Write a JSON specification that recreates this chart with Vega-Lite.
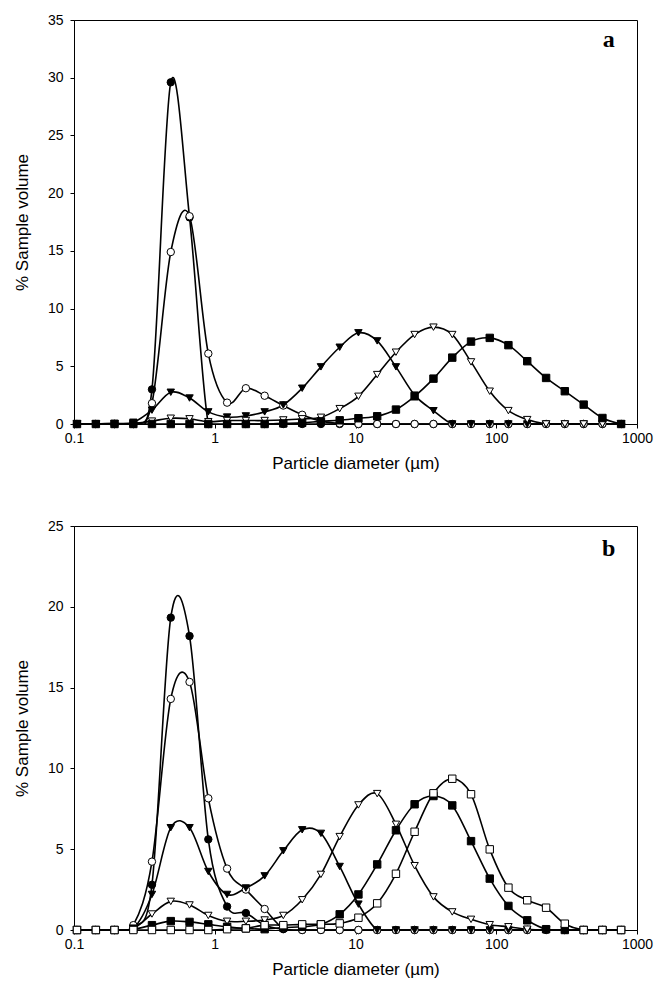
{
  "$schema": "https://vega.github.io/schema/vega-lite/v6.json",
  "background": "white",
  "padding": {"left": 12, "top": 12, "right": 3, "bottom": 5},
  "spacing": 46,
  "config": {
    "view": {"stroke": "black", "strokeWidth": 1},
    "axis": {
      "labelFont": "Liberation Sans", "titleFont": "Liberation Sans",
      "labelFontSize": 14, "titleFontSize": 17, "titleFontWeight": "normal",
      "labelColor": "black", "titleColor": "black", "labelFlush": false,
      "domainColor": "black", "tickColor": "black", "grid": false, "tickSize": 4
    }
  },
  "datasets": {
    "a": [
      {"s":"FC","x":0.105,"y":0},{"s":"FC","x":0.143,"y":0},{"s":"FC","x":0.194,"y":0},{"s":"FC","x":0.264,"y":0},{"s":"FC","x":0.358,"y":3.0},{"s":"FC","x":0.487,"y":29.6},{"s":"FC","x":0.662,"y":17.9},{"s":"FC","x":0.9,"y":0},{"s":"FC","x":1.224,"y":0},{"s":"FC","x":1.664,"y":0},{"s":"FC","x":2.262,"y":0},{"s":"FC","x":3.07,"y":0},{"s":"FC","x":4.18,"y":0},{"s":"FC","x":5.68,"y":0},{"s":"FC","x":7.72,"y":0},{"s":"FC","x":10.49,"y":0},{"s":"FC","x":14.26,"y":0},{"s":"FC","x":19.38,"y":0},{"s":"FC","x":26.3,"y":0},{"s":"FC","x":35.8,"y":0},{"s":"FC","x":48.7,"y":0},{"s":"FC","x":66.2,"y":0},{"s":"FC","x":89.9,"y":0},{"s":"FC","x":122,"y":0},{"s":"FC","x":166,"y":0},{"s":"FC","x":226,"y":0},{"s":"FC","x":307,"y":0},{"s":"FC","x":418,"y":0},{"s":"FC","x":568,"y":0},{"s":"FC","x":771,"y":0},
      {"s":"OC","x":0.105,"y":0},{"s":"OC","x":0.143,"y":0},{"s":"OC","x":0.194,"y":0},{"s":"OC","x":0.264,"y":0},{"s":"OC","x":0.358,"y":1.8},{"s":"OC","x":0.487,"y":14.9},{"s":"OC","x":0.662,"y":18.0},{"s":"OC","x":0.9,"y":6.1},{"s":"OC","x":1.224,"y":1.85},{"s":"OC","x":1.664,"y":3.1},{"s":"OC","x":2.262,"y":2.45},{"s":"OC","x":3.07,"y":1.6},{"s":"OC","x":4.18,"y":0.8},{"s":"OC","x":5.68,"y":0.25},{"s":"OC","x":7.72,"y":0.05},{"s":"OC","x":10.49,"y":0},{"s":"OC","x":14.26,"y":0},{"s":"OC","x":19.38,"y":0},{"s":"OC","x":26.3,"y":0},{"s":"OC","x":35.8,"y":0},{"s":"OC","x":48.7,"y":0},{"s":"OC","x":66.2,"y":0},{"s":"OC","x":89.9,"y":0},{"s":"OC","x":122,"y":0},{"s":"OC","x":166,"y":0},{"s":"OC","x":226,"y":0},{"s":"OC","x":307,"y":0},{"s":"OC","x":418,"y":0},{"s":"OC","x":568,"y":0},{"s":"OC","x":771,"y":0},
      {"s":"FT","x":0.105,"y":0},{"s":"FT","x":0.143,"y":0},{"s":"FT","x":0.194,"y":0.05},{"s":"FT","x":0.264,"y":0.15},{"s":"FT","x":0.358,"y":1.2},{"s":"FT","x":0.487,"y":2.75},{"s":"FT","x":0.662,"y":2.25},{"s":"FT","x":0.9,"y":1.05},{"s":"FT","x":1.224,"y":0.6},{"s":"FT","x":1.664,"y":0.7},{"s":"FT","x":2.262,"y":1.05},{"s":"FT","x":3.07,"y":1.65},{"s":"FT","x":4.18,"y":3.1},{"s":"FT","x":5.68,"y":4.95},{"s":"FT","x":7.72,"y":6.65},{"s":"FT","x":10.49,"y":7.9},{"s":"FT","x":14.26,"y":7.2},{"s":"FT","x":19.38,"y":4.95},{"s":"FT","x":26.3,"y":2.5},{"s":"FT","x":35.8,"y":1.15},{"s":"FT","x":48.7,"y":0},{"s":"FT","x":66.2,"y":0},{"s":"FT","x":89.9,"y":0},{"s":"FT","x":122,"y":0},{"s":"FT","x":166,"y":0},{"s":"FT","x":226,"y":0},{"s":"FT","x":307,"y":0},{"s":"FT","x":418,"y":0},{"s":"FT","x":568,"y":0},{"s":"FT","x":771,"y":0},
      {"s":"OT","x":0.105,"y":0},{"s":"OT","x":0.143,"y":0},{"s":"OT","x":0.194,"y":0},{"s":"OT","x":0.264,"y":0.05},{"s":"OT","x":0.358,"y":0.25},{"s":"OT","x":0.487,"y":0.5},{"s":"OT","x":0.662,"y":0.45},{"s":"OT","x":0.9,"y":0.2},{"s":"OT","x":1.224,"y":0.3},{"s":"OT","x":1.664,"y":0.3},{"s":"OT","x":2.262,"y":0.3},{"s":"OT","x":3.07,"y":0.35},{"s":"OT","x":4.18,"y":0.45},{"s":"OT","x":5.68,"y":0.58},{"s":"OT","x":7.72,"y":1.33},{"s":"OT","x":10.49,"y":2.4},{"s":"OT","x":14.26,"y":4.28},{"s":"OT","x":19.38,"y":6.22},{"s":"OT","x":26.3,"y":7.75},{"s":"OT","x":35.8,"y":8.39},{"s":"OT","x":48.7,"y":7.75},{"s":"OT","x":66.2,"y":5.38},{"s":"OT","x":89.9,"y":2.84},{"s":"OT","x":122,"y":1.16},{"s":"OT","x":166,"y":0.38},{"s":"OT","x":226,"y":0},{"s":"OT","x":307,"y":0},{"s":"OT","x":418,"y":0},{"s":"OT","x":568,"y":0},{"s":"OT","x":771,"y":0},
      {"s":"FS","x":0.105,"y":0},{"s":"FS","x":0.143,"y":0},{"s":"FS","x":0.194,"y":0},{"s":"FS","x":0.264,"y":0},{"s":"FS","x":0.358,"y":0},{"s":"FS","x":0.487,"y":0},{"s":"FS","x":0.662,"y":0},{"s":"FS","x":0.9,"y":0},{"s":"FS","x":1.224,"y":0},{"s":"FS","x":1.664,"y":0},{"s":"FS","x":2.262,"y":0},{"s":"FS","x":3.07,"y":0.05},{"s":"FS","x":4.18,"y":0.1},{"s":"FS","x":5.68,"y":0.23},{"s":"FS","x":7.72,"y":0.32},{"s":"FS","x":10.49,"y":0.5},{"s":"FS","x":14.26,"y":0.67},{"s":"FS","x":19.38,"y":1.25},{"s":"FS","x":26.3,"y":2.4},{"s":"FS","x":35.8,"y":3.93},{"s":"FS","x":48.7,"y":5.75},{"s":"FS","x":66.2,"y":7.14},{"s":"FS","x":89.9,"y":7.46},{"s":"FS","x":122,"y":6.83},{"s":"FS","x":166,"y":5.44},{"s":"FS","x":226,"y":3.99},{"s":"FS","x":307,"y":2.84},{"s":"FS","x":418,"y":1.68},{"s":"FS","x":568,"y":0.52},{"s":"FS","x":771,"y":0}
    ],
    "b": [
      {"s":"FC","x":0.105,"y":0},{"s":"FC","x":0.143,"y":0},{"s":"FC","x":0.194,"y":0},{"s":"FC","x":0.264,"y":0.2},{"s":"FC","x":0.358,"y":2.8},{"s":"FC","x":0.487,"y":19.33},{"s":"FC","x":0.662,"y":18.19},{"s":"FC","x":0.9,"y":5.61},{"s":"FC","x":1.224,"y":1.45},{"s":"FC","x":1.664,"y":1.05},{"s":"FC","x":2.262,"y":0.3},{"s":"FC","x":3.07,"y":0.05},{"s":"FC","x":4.18,"y":0},{"s":"FC","x":5.68,"y":0},{"s":"FC","x":7.72,"y":0},{"s":"FC","x":10.49,"y":0},{"s":"FC","x":14.26,"y":0},{"s":"FC","x":19.38,"y":0},{"s":"FC","x":26.3,"y":0},{"s":"FC","x":35.8,"y":0},{"s":"FC","x":48.7,"y":0},{"s":"FC","x":66.2,"y":0},{"s":"FC","x":89.9,"y":0},{"s":"FC","x":122,"y":0},{"s":"FC","x":166,"y":0},{"s":"FC","x":226,"y":0},{"s":"FC","x":307,"y":0},{"s":"FC","x":418,"y":0},{"s":"FC","x":568,"y":0},{"s":"FC","x":771,"y":0},
      {"s":"OC","x":0.105,"y":0},{"s":"OC","x":0.143,"y":0},{"s":"OC","x":0.194,"y":0},{"s":"OC","x":0.264,"y":0.3},{"s":"OC","x":0.358,"y":4.23},{"s":"OC","x":0.487,"y":14.3},{"s":"OC","x":0.662,"y":15.35},{"s":"OC","x":0.9,"y":8.15},{"s":"OC","x":1.224,"y":3.8},{"s":"OC","x":1.664,"y":2.5},{"s":"OC","x":2.262,"y":1.3},{"s":"OC","x":3.07,"y":0.1},{"s":"OC","x":4.18,"y":0},{"s":"OC","x":5.68,"y":0},{"s":"OC","x":7.72,"y":0},{"s":"OC","x":10.49,"y":0},{"s":"OC","x":14.26,"y":0},{"s":"OC","x":19.38,"y":0},{"s":"OC","x":26.3,"y":0},{"s":"OC","x":35.8,"y":0},{"s":"OC","x":48.7,"y":0},{"s":"OC","x":66.2,"y":0},{"s":"OC","x":89.9,"y":0},{"s":"OC","x":122,"y":0},{"s":"OC","x":166,"y":0},{"s":"OC","x":226,"y":0},{"s":"OC","x":307,"y":0},{"s":"OC","x":418,"y":0},{"s":"OC","x":568,"y":0},{"s":"OC","x":771,"y":0},
      {"s":"FT","x":0.105,"y":0},{"s":"FT","x":0.143,"y":0},{"s":"FT","x":0.194,"y":0},{"s":"FT","x":0.264,"y":0.1},{"s":"FT","x":0.358,"y":2.2},{"s":"FT","x":0.487,"y":6.33},{"s":"FT","x":0.662,"y":6.33},{"s":"FT","x":0.9,"y":3.62},{"s":"FT","x":1.224,"y":2.2},{"s":"FT","x":1.664,"y":2.6},{"s":"FT","x":2.262,"y":3.35},{"s":"FT","x":3.07,"y":4.9},{"s":"FT","x":4.18,"y":6.2},{"s":"FT","x":5.68,"y":5.98},{"s":"FT","x":7.72,"y":3.93},{"s":"FT","x":10.49,"y":1.6},{"s":"FT","x":14.26,"y":0},{"s":"FT","x":19.38,"y":0},{"s":"FT","x":26.3,"y":0},{"s":"FT","x":35.8,"y":0},{"s":"FT","x":48.7,"y":0},{"s":"FT","x":66.2,"y":0},{"s":"FT","x":89.9,"y":0},{"s":"FT","x":122,"y":0},{"s":"FT","x":166,"y":0},{"s":"FT","x":226,"y":0},{"s":"FT","x":307,"y":0},{"s":"FT","x":418,"y":0},{"s":"FT","x":568,"y":0},{"s":"FT","x":771,"y":0},
      {"s":"OT","x":0.105,"y":0},{"s":"OT","x":0.143,"y":0},{"s":"OT","x":0.194,"y":0},{"s":"OT","x":0.264,"y":0.1},{"s":"OT","x":0.358,"y":0.99},{"s":"OT","x":0.487,"y":1.77},{"s":"OT","x":0.662,"y":1.55},{"s":"OT","x":0.9,"y":0.9},{"s":"OT","x":1.224,"y":0.54},{"s":"OT","x":1.664,"y":0.54},{"s":"OT","x":2.262,"y":0.62},{"s":"OT","x":3.07,"y":0.9},{"s":"OT","x":4.18,"y":1.87},{"s":"OT","x":5.68,"y":3.44},{"s":"OT","x":7.72,"y":5.78},{"s":"OT","x":10.49,"y":7.74},{"s":"OT","x":14.26,"y":8.44},{"s":"OT","x":19.38,"y":6.54},{"s":"OT","x":26.3,"y":3.98},{"s":"OT","x":35.8,"y":2.05},{"s":"OT","x":48.7,"y":1.12},{"s":"OT","x":66.2,"y":0.66},{"s":"OT","x":89.9,"y":0.33},{"s":"OT","x":122,"y":0.2},{"s":"OT","x":166,"y":0.05},{"s":"OT","x":226,"y":0},{"s":"OT","x":307,"y":0},{"s":"OT","x":418,"y":0},{"s":"OT","x":568,"y":0},{"s":"OT","x":771,"y":0},
      {"s":"FS","x":0.105,"y":0},{"s":"FS","x":0.143,"y":0},{"s":"FS","x":0.194,"y":0},{"s":"FS","x":0.264,"y":0.05},{"s":"FS","x":0.358,"y":0.3},{"s":"FS","x":0.487,"y":0.55},{"s":"FS","x":0.662,"y":0.5},{"s":"FS","x":0.9,"y":0.35},{"s":"FS","x":1.224,"y":0.2},{"s":"FS","x":1.664,"y":0.1},{"s":"FS","x":2.262,"y":0.05},{"s":"FS","x":3.07,"y":0.15},{"s":"FS","x":4.18,"y":0.2},{"s":"FS","x":5.68,"y":0.35},{"s":"FS","x":7.72,"y":0.97},{"s":"FS","x":10.49,"y":2.2},{"s":"FS","x":14.26,"y":4.06},{"s":"FS","x":19.38,"y":6.17},{"s":"FS","x":26.3,"y":7.78},{"s":"FS","x":35.8,"y":8.29},{"s":"FS","x":48.7,"y":7.71},{"s":"FS","x":66.2,"y":5.5},{"s":"FS","x":89.9,"y":3.18},{"s":"FS","x":122,"y":1.49},{"s":"FS","x":166,"y":0.6},{"s":"FS","x":226,"y":0.05},{"s":"FS","x":307,"y":0},{"s":"FS","x":418,"y":0},{"s":"FS","x":568,"y":0},{"s":"FS","x":771,"y":0},
      {"s":"OS","x":0.105,"y":0},{"s":"OS","x":0.143,"y":0},{"s":"OS","x":0.194,"y":0},{"s":"OS","x":0.264,"y":0},{"s":"OS","x":0.358,"y":0},{"s":"OS","x":0.487,"y":0},{"s":"OS","x":0.662,"y":0},{"s":"OS","x":0.9,"y":0},{"s":"OS","x":1.224,"y":0.05},{"s":"OS","x":1.664,"y":0.1},{"s":"OS","x":2.262,"y":0.3},{"s":"OS","x":3.07,"y":0.3},{"s":"OS","x":4.18,"y":0.35},{"s":"OS","x":5.68,"y":0.35},{"s":"OS","x":7.72,"y":0.41},{"s":"OS","x":10.49,"y":0.76},{"s":"OS","x":14.26,"y":1.65},{"s":"OS","x":19.38,"y":3.48},{"s":"OS","x":26.3,"y":6.08},{"s":"OS","x":35.8,"y":8.46},{"s":"OS","x":48.7,"y":9.36},{"s":"OS","x":66.2,"y":8.4},{"s":"OS","x":89.9,"y":4.99},{"s":"OS","x":122,"y":2.62},{"s":"OS","x":166,"y":1.84},{"s":"OS","x":226,"y":1.38},{"s":"OS","x":307,"y":0.39},{"s":"OS","x":418,"y":0},{"s":"OS","x":568,"y":0},{"s":"OS","x":771,"y":0}
    ],
    "la": [{"t": "a", "px": 630, "py": 33.3}],
    "lb": [{"t": "b", "px": 630, "py": 23.6}]
  },
  "vconcat": [
    {
      "width": 563, "height": 404,
      "layer": [
        {"data": {"name": "a"},
         "mark": {"type": "line", "interpolate": "cardinal", "color": "black", "strokeWidth": 1.6, "clip": true},
         "encoding": {
           "x": {"field": "x", "type": "quantitative",
                 "scale": {"type": "log", "domain": [0.1, 1000], "nice": false},
                 "axis": {"values": [0.1, 1, 10, 100, 1000], "format": "~g", "title": "Particle diameter (µm)", "titlePadding": 10, "labelPadding": 3}},
           "y": {"field": "y", "type": "quantitative",
                 "scale": {"domain": [0, 35], "nice": false},
                 "axis": {"values": [0, 5, 10, 15, 20, 25, 30, 35], "title": "% Sample volume", "titlePadding": 16, "labelPadding": 7}},
           "detail": {"field": "s"}}},
        {"data": {"name": "a"},
         "mark": {"type": "point", "filled": true, "stroke": "black", "strokeWidth": 1, "size": 55, "opacity": 1},
         "encoding": {
           "x": {"field": "x", "type": "quantitative"},
           "y": {"field": "y", "type": "quantitative"},
           "shape": {"field": "s", "scale": {"domain": ["FC","OC","FT","OT","FS","OS"], "range": ["circle","circle","triangle-down","triangle-down","square","square"]}, "legend": null},
           "fill": {"field": "s", "scale": {"domain": ["FC","OC","FT","OT","FS","OS"], "range": ["black","white","black","white","black","white"]}, "legend": null}
         }},
        {"data": {"name": "la"},
         "mark": {"type": "text", "font": "Liberation Serif", "fontWeight": "bold", "fontSize": 24, "fill": "black"},
         "encoding": {
           "x": {"field": "px", "type": "quantitative"},
           "y": {"field": "py", "type": "quantitative"},
           "text": {"field": "t"}}}
      ]
    },
    {
      "width": 563, "height": 404,
      "layer": [
        {"data": {"name": "b"},
         "mark": {"type": "line", "interpolate": "cardinal", "color": "black", "strokeWidth": 1.6, "clip": true},
         "encoding": {
           "x": {"field": "x", "type": "quantitative",
                 "scale": {"type": "log", "domain": [0.1, 1000], "nice": false},
                 "axis": {"values": [0.1, 1, 10, 100, 1000], "format": "~g", "title": "Particle diameter (µm)", "titlePadding": 10, "labelPadding": 3}},
           "y": {"field": "y", "type": "quantitative",
                 "scale": {"domain": [0, 25], "nice": false},
                 "axis": {"values": [0, 5, 10, 15, 20, 25], "title": "% Sample volume", "titlePadding": 16, "labelPadding": 7}},
           "detail": {"field": "s"}}},
        {"data": {"name": "b"},
         "mark": {"type": "point", "filled": true, "stroke": "black", "strokeWidth": 1, "size": 55, "opacity": 1},
         "encoding": {
           "x": {"field": "x", "type": "quantitative"},
           "y": {"field": "y", "type": "quantitative"},
           "shape": {"field": "s", "scale": {"domain": ["FC","OC","FT","OT","FS","OS"], "range": ["circle","circle","triangle-down","triangle-down","square","square"]}, "legend": null},
           "fill": {"field": "s", "scale": {"domain": ["FC","OC","FT","OT","FS","OS"], "range": ["black","white","black","white","black","white"]}, "legend": null}
         }},
        {"data": {"name": "lb"},
         "mark": {"type": "text", "font": "Liberation Serif", "fontWeight": "bold", "fontSize": 24, "fill": "black"},
         "encoding": {
           "x": {"field": "px", "type": "quantitative"},
           "y": {"field": "py", "type": "quantitative"},
           "text": {"field": "t"}}}
      ]
    }
  ]
}
